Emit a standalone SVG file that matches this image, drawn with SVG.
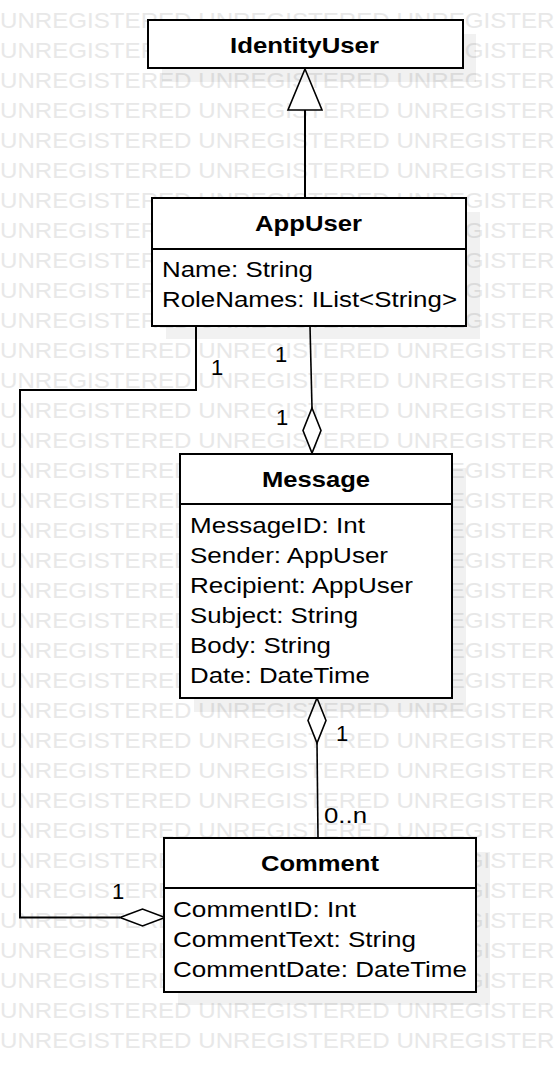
<svg xmlns="http://www.w3.org/2000/svg" width="554" height="1072" viewBox="0 0 554 1072">
<style>
.wm{font-family:"Liberation Sans",Arial,sans-serif;font-size:22px;fill:#e8e8e8}
.box{fill:#fff;stroke:#000;stroke-width:2}
.shadow{fill:#000;fill-opacity:0.055}
.div{stroke:#000;stroke-width:2}
.title{font-family:"Liberation Sans",Arial,sans-serif;font-size:22px;font-weight:bold;fill:#000;text-anchor:middle}
.attr{font-family:"Liberation Sans",Arial,sans-serif;font-size:22px;fill:#000}
.lbl{font-family:"Liberation Sans",Arial,sans-serif;font-size:22px;fill:#000}
.ln{fill:none;stroke:#000;stroke-width:2}
.thin{fill:none;stroke:#000;stroke-width:1.6}
.head{fill:#fff;stroke:#000;stroke-width:1.6}
</style>
<rect width="554" height="1072" fill="#fff"/>
<g id="watermark">
<text class="wm" x="0" y="28" textLength="588" lengthAdjust="spacingAndGlyphs">UNREGISTERED UNREGISTERED UNREGISTERED</text>
<text class="wm" x="0" y="58" textLength="588" lengthAdjust="spacingAndGlyphs">UNREGISTERED UNREGISTERED UNREGISTERED</text>
<text class="wm" x="0" y="88" textLength="588" lengthAdjust="spacingAndGlyphs">UNREGISTERED UNREGISTERED UNREGISTERED</text>
<text class="wm" x="0" y="118" textLength="588" lengthAdjust="spacingAndGlyphs">UNREGISTERED UNREGISTERED UNREGISTERED</text>
<text class="wm" x="0" y="148" textLength="588" lengthAdjust="spacingAndGlyphs">UNREGISTERED UNREGISTERED UNREGISTERED</text>
<text class="wm" x="0" y="178" textLength="588" lengthAdjust="spacingAndGlyphs">UNREGISTERED UNREGISTERED UNREGISTERED</text>
<text class="wm" x="0" y="208" textLength="588" lengthAdjust="spacingAndGlyphs">UNREGISTERED UNREGISTERED UNREGISTERED</text>
<text class="wm" x="0" y="238" textLength="588" lengthAdjust="spacingAndGlyphs">UNREGISTERED UNREGISTERED UNREGISTERED</text>
<text class="wm" x="0" y="268" textLength="588" lengthAdjust="spacingAndGlyphs">UNREGISTERED UNREGISTERED UNREGISTERED</text>
<text class="wm" x="0" y="298" textLength="588" lengthAdjust="spacingAndGlyphs">UNREGISTERED UNREGISTERED UNREGISTERED</text>
<text class="wm" x="0" y="328" textLength="588" lengthAdjust="spacingAndGlyphs">UNREGISTERED UNREGISTERED UNREGISTERED</text>
<text class="wm" x="0" y="358" textLength="588" lengthAdjust="spacingAndGlyphs">UNREGISTERED UNREGISTERED UNREGISTERED</text>
<text class="wm" x="0" y="388" textLength="588" lengthAdjust="spacingAndGlyphs">UNREGISTERED UNREGISTERED UNREGISTERED</text>
<text class="wm" x="0" y="418" textLength="588" lengthAdjust="spacingAndGlyphs">UNREGISTERED UNREGISTERED UNREGISTERED</text>
<text class="wm" x="0" y="448" textLength="588" lengthAdjust="spacingAndGlyphs">UNREGISTERED UNREGISTERED UNREGISTERED</text>
<text class="wm" x="0" y="478" textLength="588" lengthAdjust="spacingAndGlyphs">UNREGISTERED UNREGISTERED UNREGISTERED</text>
<text class="wm" x="0" y="508" textLength="588" lengthAdjust="spacingAndGlyphs">UNREGISTERED UNREGISTERED UNREGISTERED</text>
<text class="wm" x="0" y="538" textLength="588" lengthAdjust="spacingAndGlyphs">UNREGISTERED UNREGISTERED UNREGISTERED</text>
<text class="wm" x="0" y="568" textLength="588" lengthAdjust="spacingAndGlyphs">UNREGISTERED UNREGISTERED UNREGISTERED</text>
<text class="wm" x="0" y="598" textLength="588" lengthAdjust="spacingAndGlyphs">UNREGISTERED UNREGISTERED UNREGISTERED</text>
<text class="wm" x="0" y="628" textLength="588" lengthAdjust="spacingAndGlyphs">UNREGISTERED UNREGISTERED UNREGISTERED</text>
<text class="wm" x="0" y="658" textLength="588" lengthAdjust="spacingAndGlyphs">UNREGISTERED UNREGISTERED UNREGISTERED</text>
<text class="wm" x="0" y="688" textLength="588" lengthAdjust="spacingAndGlyphs">UNREGISTERED UNREGISTERED UNREGISTERED</text>
<text class="wm" x="0" y="718" textLength="588" lengthAdjust="spacingAndGlyphs">UNREGISTERED UNREGISTERED UNREGISTERED</text>
<text class="wm" x="0" y="748" textLength="588" lengthAdjust="spacingAndGlyphs">UNREGISTERED UNREGISTERED UNREGISTERED</text>
<text class="wm" x="0" y="778" textLength="588" lengthAdjust="spacingAndGlyphs">UNREGISTERED UNREGISTERED UNREGISTERED</text>
<text class="wm" x="0" y="808" textLength="588" lengthAdjust="spacingAndGlyphs">UNREGISTERED UNREGISTERED UNREGISTERED</text>
<text class="wm" x="0" y="838" textLength="588" lengthAdjust="spacingAndGlyphs">UNREGISTERED UNREGISTERED UNREGISTERED</text>
<text class="wm" x="0" y="868" textLength="588" lengthAdjust="spacingAndGlyphs">UNREGISTERED UNREGISTERED UNREGISTERED</text>
<text class="wm" x="0" y="898" textLength="588" lengthAdjust="spacingAndGlyphs">UNREGISTERED UNREGISTERED UNREGISTERED</text>
<text class="wm" x="0" y="928" textLength="588" lengthAdjust="spacingAndGlyphs">UNREGISTERED UNREGISTERED UNREGISTERED</text>
<text class="wm" x="0" y="958" textLength="588" lengthAdjust="spacingAndGlyphs">UNREGISTERED UNREGISTERED UNREGISTERED</text>
<text class="wm" x="0" y="988" textLength="588" lengthAdjust="spacingAndGlyphs">UNREGISTERED UNREGISTERED UNREGISTERED</text>
<text class="wm" x="0" y="1018" textLength="588" lengthAdjust="spacingAndGlyphs">UNREGISTERED UNREGISTERED UNREGISTERED</text>
<text class="wm" x="0" y="1048" textLength="588" lengthAdjust="spacingAndGlyphs">UNREGISTERED UNREGISTERED UNREGISTERED</text>
</g>
<g id="connectors">
<line class="ln" x1="305" y1="110" x2="305" y2="198"/>
<polygon class="head" stroke-width="2" points="305,69 288,110 322,110"/>
<line class="thin" x1="310" y1="326" x2="312" y2="408"/>
<polygon class="head" points="312,408 321,430.5 312,453 303,430.5"/>
<polygon class="head" points="317,698 326,720.5 317,743 308,720.5"/>
<line class="thin" x1="317" y1="743" x2="318" y2="838"/>
<polyline class="ln" points="196,326 196,390 20,390 20,917.5 120,917.5"/>
<polygon class="head" points="120,917.5 142.5,909 165,917.5 142.5,926"/>
<text class="lbl" x="211" y="375">1</text>
<text class="lbl" x="275" y="362">1</text>
<text class="lbl" x="276" y="425">1</text>
<text class="lbl" x="336" y="741">1</text>
<text class="lbl" x="324" y="823" textLength="43" lengthAdjust="spacingAndGlyphs">0..n</text>
<text class="lbl" x="112" y="899">1</text>
</g>
<g id="IdentityUser">
<rect class="shadow" x="162" y="34" width="314" height="48"/>
<rect class="box" x="148" y="20" width="315" height="48"/>
<text class="title" x="304.5" y="53" textLength="149" lengthAdjust="spacingAndGlyphs">IdentityUser</text>
</g>
<g id="AppUser">
<rect class="shadow" x="166" y="212" width="314" height="127"/>
<rect class="box" x="152" y="198" width="314" height="128"/>
<line class="div" x1="152" y1="249" x2="466" y2="249"/>
<text class="title" x="308.5" y="231" textLength="107" lengthAdjust="spacingAndGlyphs">AppUser</text>
<text class="attr" x="162" y="277" textLength="151" lengthAdjust="spacingAndGlyphs">Name: String</text>
<text class="attr" x="162" y="307" textLength="295" lengthAdjust="spacingAndGlyphs">RoleNames: IList&lt;String&gt;</text>
</g>
<g id="Message">
<rect class="shadow" x="194" y="468" width="272" height="244"/>
<rect class="box" x="180" y="454" width="272" height="244"/>
<line class="div" x1="180" y1="504" x2="452" y2="504"/>
<text class="title" x="316" y="487" textLength="108" lengthAdjust="spacingAndGlyphs">Message</text>
<text class="attr" x="190" y="533" textLength="175" lengthAdjust="spacingAndGlyphs">MessageID: Int</text>
<text class="attr" x="190" y="563" textLength="198" lengthAdjust="spacingAndGlyphs">Sender: AppUser</text>
<text class="attr" x="190" y="593" textLength="223" lengthAdjust="spacingAndGlyphs">Recipient: AppUser</text>
<text class="attr" x="190" y="623" textLength="168" lengthAdjust="spacingAndGlyphs">Subject: String</text>
<text class="attr" x="190" y="653" textLength="141" lengthAdjust="spacingAndGlyphs">Body: String</text>
<text class="attr" x="190" y="683" textLength="180" lengthAdjust="spacingAndGlyphs">Date: DateTime</text>
</g>
<g id="Comment">
<rect class="shadow" x="178" y="852" width="312" height="153"/>
<rect class="box" x="164" y="838" width="312" height="154"/>
<line class="div" x1="164" y1="888" x2="476" y2="888"/>
<text class="title" x="320" y="871" textLength="118" lengthAdjust="spacingAndGlyphs">Comment</text>
<text class="attr" x="173" y="917" textLength="183" lengthAdjust="spacingAndGlyphs">CommentID: Int</text>
<text class="attr" x="173" y="947" textLength="243" lengthAdjust="spacingAndGlyphs">CommentText: String</text>
<text class="attr" x="173" y="977" textLength="294" lengthAdjust="spacingAndGlyphs">CommentDate: DateTime</text>
</g>
</svg>
